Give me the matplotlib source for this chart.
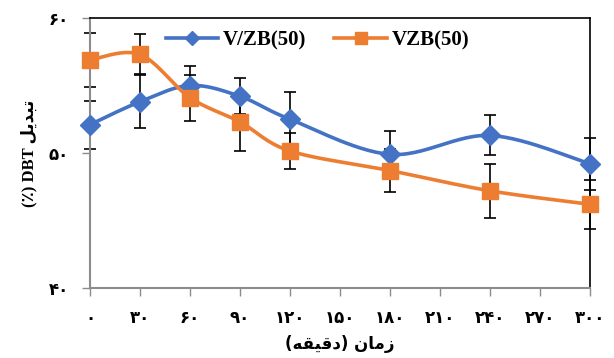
import numpy as np
import matplotlib
matplotlib.use("Agg")
import matplotlib.pyplot as plt
from matplotlib.lines import Line2D

# data
time_min = [0, 30, 60, 90, 120, 180, 240, 300]
vzb_slash = [52.1, 53.8, 55.0, 54.2, 52.5, 49.9, 51.3, 49.2]
vzb_slash_err = [1.78, 1.96, 1.41, 1.33, 2.0, 1.70, 1.48, 1.93]
vzb = [56.9, 57.3, 54.1, 52.3, 50.15, 48.7, 47.2, 46.2]
vzb_err = [2.0, 1.48, 1.70, 2.15, 1.33, 1.56, 2.0, 1.81]

x_ticks = [0, 30, 60, 90, 120, 150, 180, 210, 240, 270, 300]
x_tick_labels = ["۰", "۳۰", "۶۰", "۹۰", "۱۲۰", "۱۵۰", "۱۸۰", "۲۱۰", "۲۴۰", "۲۷۰", "۳۰۰"]
y_ticks = [40, 50, 60]
y_tick_labels = ["۴۰", "۵۰", "۶۰"]

# Persian text already shaped (presentation forms, visual order)
x_title = "(ﻪﻘﻴﻗﺩ) ﻥﺎﻣﺯ"
y_title = "(٪) DBT ﻞﻳﺪﺒﺗ"

blue = "#4472C4"
orange = "#ED7D31"


def smooth(xs, ys, sx=500 / 300, sy=13.5, n=30):
    # excel-like smoothed line (catmull-rom bezier in screen units)
    p = np.column_stack([np.array(xs) * sx, np.array(ys) * sy])
    out = []
    for i in range(len(p) - 1):
        p0 = p[i - 1] if i > 0 else p[i]
        p1, p2 = p[i], p[i + 1]
        p3 = p[i + 2] if i + 2 < len(p) else p[i + 1]
        b1 = p1 + (p2 - p0) / 6
        b2 = p2 - (p3 - p1) / 6
        t = np.linspace(0, 1, n)[:, None]
        seg = (1 - t) ** 3 * p1 + 3 * (1 - t) ** 2 * t * b1 + 3 * (1 - t) * t ** 2 * b2 + t ** 3 * p2
        out.append(seg if i == 0 else seg[1:])
    out = np.vstack(out)
    return out[:, 0] / sx, out[:, 1] / sy


fig = plt.figure(figsize=(6.14, 3.58), dpi=100)
ax = fig.add_axes([0.1466, 0.1955, 0.8144, 0.7542])

ax.errorbar(time_min, vzb_slash, yerr=vzb_slash_err, fmt="none", ecolor="black",
            elinewidth=1.2, capsize=4, capthick=1.2, zorder=2, clip_on=False)
ax.errorbar(time_min, vzb, yerr=vzb_err, fmt="none", ecolor="black",
            elinewidth=1.2, capsize=4, capthick=1.2, zorder=2, clip_on=False)

sx, sy = smooth(time_min, vzb_slash)
ax.plot(sx, sy, color=blue, lw=2.6, zorder=3, clip_on=False)
ax.plot(time_min, vzb_slash, ls="none", marker="D", ms=10, color=blue, zorder=4, clip_on=False)
ox, oy = smooth(time_min, vzb)
ax.plot(ox, oy, color=orange, lw=2.6, zorder=3, clip_on=False)
ax.plot(time_min, vzb, ls="none", marker="s", ms=12, color=orange, zorder=4, clip_on=False)

ax.set_xlim(0, 300)
ax.set_ylim(40, 60)
ax.set_xticks(x_ticks)
ax.set_xticklabels(x_tick_labels, fontsize=12, fontweight="bold", family="DejaVu Sans")
ax.set_yticks(y_ticks)
ax.set_yticklabels(y_tick_labels, fontsize=12, fontweight="bold", family="DejaVu Sans")
ax.tick_params(axis="both", direction="out", length=6, width=1, color="#8c8c8c", pad=9)

for side in ["left", "bottom"]:
    ax.spines[side].set_color("#8c8c8c")
    ax.spines[side].set_linewidth(1.5)
for side in ["top", "right"]:
    ax.spines[side].set_color("black")
    ax.spines[side].set_linewidth(1.2)

ax.set_xlabel(x_title, fontsize=12, fontweight="bold", family=["DejaVu Sans"], labelpad=6)
ax.set_ylabel(y_title, fontsize=12, fontweight="bold", family=["Liberation Serif", "DejaVu Sans"], labelpad=8)

handles = [
    Line2D([], [], color=blue, lw=2.6, marker="D", ms=7),
    Line2D([], [], color=orange, lw=2.6, marker="s", ms=8),
]
ax.legend(handles, ["V/ZB(50)", "VZB(50)"], loc="center", bbox_to_anchor=(0.455, 0.918),
          ncol=2, frameon=False, handlelength=2.5, columnspacing=1.35, handletextpad=0.25,
          prop={"family": "Liberation Serif", "weight": "bold", "size": 15})

fig.savefig("out.png", dpi=100)
